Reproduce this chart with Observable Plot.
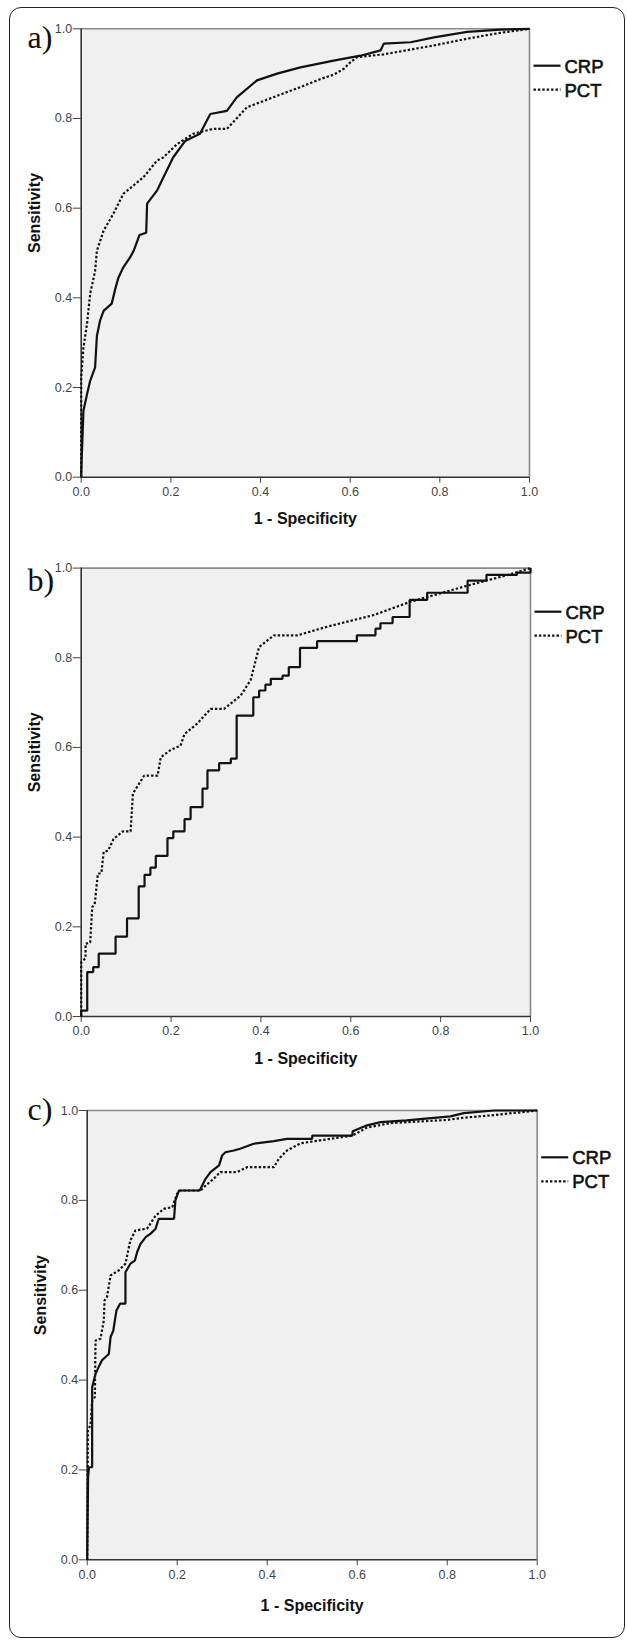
<!DOCTYPE html>
<html><head><meta charset="utf-8">
<script src="https://cdn.jsdelivr.net/npm/d3@7"></script>
<script src="https://cdn.jsdelivr.net/npm/@observablehq/plot@0.6"></script>
<style>
body{margin:0;background:#fff;}
#wrap{position:relative;width:627px;height:1640px;overflow:hidden;background:#fff;}
#frame{position:absolute;left:9px;top:7px;width:614px;height:1629px;border:1.6px solid #222;border-radius:12px;box-sizing:content-box;}
.panel{position:absolute;left:0;}
</style></head><body><div id="wrap"><div id="frame"></div></div>
<script>
// ---------- data ----------
const ticks = [0, 0.2, 0.4, 0.6, 0.8, 1.0];
const xTitle = "1 - Specificity";
const yTitle = "Sensitivity";
const seriesNames = ["CRP", "PCT"];
const panelLabels = ["a)", "b)", "c)"];

// panel a  [1 - specificity, sensitivity]
const aCRP = [[0,0],[0.001,0.037],[0.005,0.148],[0.013,0.185],[0.02,0.215],[0.031,0.245],[0.035,0.315],[0.042,0.349],[0.05,0.371],[0.068,0.387],[0.076,0.42],[0.083,0.445],[0.094,0.468],[0.109,0.49],[0.117,0.505],[0.13,0.54],[0.145,0.545],[0.147,0.61],[0.169,0.639],[0.183,0.668],[0.205,0.713],[0.232,0.75],[0.265,0.766],[0.288,0.81],[0.325,0.817],[0.347,0.847],[0.392,0.885],[0.437,0.9],[0.489,0.914],[0.563,0.929],[0.623,0.94],[0.668,0.952],[0.675,0.967],[0.735,0.97],[0.787,0.981],[0.861,0.993],[0.935,0.998],[1,1]];
const aPCT = [[0,0],[0,0.222],[0.005,0.289],[0.013,0.342],[0.02,0.409],[0.031,0.46],[0.035,0.505],[0.05,0.55],[0.072,0.588],[0.094,0.632],[0.139,0.669],[0.169,0.706],[0.183,0.713],[0.214,0.743],[0.25,0.766],[0.295,0.777],[0.325,0.777],[0.37,0.825],[0.467,0.862],[0.489,0.87],[0.534,0.888],[0.564,0.898],[0.586,0.911],[0.601,0.926],[0.616,0.937],[0.675,0.943],[0.787,0.963],[0.861,0.978],[0.935,0.991],[1,1]];

// panel b
const bCRP = [[0,0],[0,0.013],[0.0134,0.099],[0.0267,0.11],[0.039,0.14],[0.0765,0.178],[0.102,0.219],[0.128,0.29],[0.141,0.316],[0.154,0.332],[0.166,0.358],[0.192,0.398],[0.205,0.413],[0.23,0.44],[0.2435,0.467],[0.27,0.508],[0.281,0.549],[0.307,0.565],[0.333,0.575],[0.346,0.671],[0.383,0.712],[0.396,0.727],[0.41,0.74],[0.422,0.753],[0.448,0.76],[0.462,0.779],[0.487,0.822],[0.525,0.837],[0.6135,0.85],[0.655,0.865],[0.666,0.877],[0.693,0.891],[0.731,0.929],[0.77,0.945],[0.86,0.972],[0.902,0.985],[0.97,0.99],[1,1]];
const bPCT = [[0,0],[0,0.121],[0.0097,0.13],[0.0097,0.162],[0.02,0.165],[0.0245,0.244],[0.03,0.25],[0.037,0.318],[0.045,0.32],[0.05,0.367],[0.06,0.37],[0.072,0.396],[0.093,0.413],[0.11,0.413],[0.115,0.497],[0.14,0.537],[0.17,0.537],[0.177,0.578],[0.2,0.595],[0.221,0.604],[0.23,0.63],[0.258,0.653],[0.288,0.686],[0.318,0.686],[0.355,0.716],[0.377,0.75],[0.396,0.824],[0.429,0.85],[0.481,0.85],[0.55,0.87],[0.65,0.895],[0.73,0.924],[0.86,0.961],[0.95,0.985],[1,1]];

// panel c
const cCRP = [[0,0],[0.002,0.184],[0.004,0.206],[0.011,0.206],[0.011,0.384],[0.0185,0.414],[0.026,0.43],[0.033,0.444],[0.048,0.458],[0.052,0.496],[0.058,0.51],[0.065,0.555],[0.073,0.57],[0.085,0.57],[0.085,0.64],[0.096,0.659],[0.106,0.666],[0.111,0.685],[0.1185,0.703],[0.13,0.718],[0.141,0.726],[0.152,0.737],[0.159,0.759],[0.193,0.759],[0.196,0.8],[0.204,0.822],[0.25,0.822],[0.263,0.848],[0.274,0.863],[0.293,0.878],[0.3,0.9],[0.307,0.907],[0.326,0.911],[0.34,0.915],[0.37,0.926],[0.415,0.932],[0.444,0.937],[0.5,0.937],[0.5,0.944],[0.589,0.944],[0.59,0.954],[0.622,0.967],[0.652,0.974],[0.71,0.978],[0.807,0.987],[0.837,0.994],[0.904,1],[1,1]];
const cPCT = [[0,0],[0.0015,0.288],[0.0074,0.3],[0.011,0.355],[0.017,0.362],[0.0185,0.488],[0.0296,0.492],[0.037,0.533],[0.0385,0.577],[0.044,0.585],[0.052,0.633],[0.07,0.644],[0.085,0.659],[0.096,0.711],[0.107,0.733],[0.133,0.737],[0.152,0.766],[0.17,0.781],[0.189,0.785],[0.2,0.815],[0.207,0.822],[0.252,0.822],[0.263,0.833],[0.281,0.848],[0.296,0.863],[0.333,0.863],[0.356,0.874],[0.415,0.874],[0.426,0.893],[0.444,0.911],[0.474,0.927],[0.541,0.937],[0.589,0.944],[0.622,0.962],[0.674,0.972],[0.71,0.974],[0.8,0.979],[0.837,0.984],[0.896,0.989],[1,1]];

// ---------- layout ----------
const panels = [
  {label: panelLabels[0], crp: aCRP, pct: aPCT, crpCurve: "linear", top: 0,    height: 545, mt: 28.3, mb: 68.3, ml: 80.7, mr: 98,   legDy: 37.4, labelDy: 19, titleDy: 47},
  {label: panelLabels[1], crp: bCRP, pct: bPCT, crpCurve: "step-after", top: 545, height: 540, mt: 22.6, mb: 69,   ml: 80.7, mr: 97,   legDy: 44.1, labelDy: 22.5, titleDy: 47},
  {label: panelLabels[2], crp: cCRP, pct: cPCT, crpCurve: "linear", top: 1085, height: 555, mt: 25,   mb: 80.7, ml: 86.7, mr: 90.3, legDy: 47.3, labelDy: 9.5, titleDy: 51}
];

const wrap = document.getElementById("wrap");
const FONT = "'Liberation Sans', Arial, Helvetica, sans-serif";
const DOT = "2.4 2";

for (const p of panels) {
  const chart = Plot.plot({
    width: 627,
    height: p.height,
    marginTop: p.mt, marginBottom: p.mb, marginLeft: p.ml, marginRight: p.mr,
    style: {fontFamily: FONT, fontSize: "12.5px", color: "#333", background: "transparent", overflow: "visible"},
    x: {domain: [0, 1]},
    y: {domain: [0, 1]},
    marks: [
      Plot.frame({fill: "#f0f0f0", stroke: "none"}),
      Plot.ruleY([1], {stroke: "#8a8a8a", strokeWidth: 1.6}),
      Plot.ruleX([1], {stroke: "#8a8a8a", strokeWidth: 1.6}),
      Plot.axisX(ticks, {tickSize: 6, tickPadding: 4, tickFormat: d3.format(".1f"), label: null, fontSize: 12.5, stroke: "#444", fill: "#444"}),
      Plot.axisY(ticks, {tickSize: 8, tickPadding: 1, tickFormat: d3.format(".1f"), label: null, fontSize: 12.5, stroke: "#444", fill: "#444"}),
      Plot.ruleX([0], {stroke: "#333", strokeWidth: 1.6}),
      Plot.ruleY([0], {stroke: "#333", strokeWidth: 1.6}),
      Plot.line(p.pct, {x: d => d[0], y: d => d[1], stroke: "#111", strokeWidth: 2.2, strokeDasharray: DOT, strokeLinecap: "butt", strokeLinejoin: "miter", curve: "linear"}),
      Plot.line(p.crp, {x: d => d[0], y: d => d[1], stroke: "#111", strokeWidth: 2.2, strokeLinecap: "butt", strokeLinejoin: "miter", curve: p.crpCurve}),
      Plot.text([xTitle], {text: d => d, frameAnchor: "bottom", lineAnchor: "bottom", dy: p.titleDy, fontWeight: "bold", fontSize: 16, fill: "#111"}),
      Plot.text([yTitle], {text: d => d, frameAnchor: "left", rotate: -90, dx: -46, fontWeight: "bold", fontSize: 16, fill: "#111"}),
      Plot.text([p.label], {text: d => d, frameAnchor: "top-left", textAnchor: "start", lineAnchor: "bottom", dx: 27 - p.ml, dy: p.labelDy, fontFamily: "'Liberation Serif', 'Times New Roman', serif", fontSize: 32, fill: "#111"})
    ]
  });
  chart.classList.add("panel");
  chart.style.top = p.top + "px";
  wrap.appendChild(chart);

  // legend (right of the plot frame)
  const g = d3.select(chart).append("g").attr("text-anchor", "start");
  const x0 = 627 - p.mr + 4.5;
  seriesNames.forEach((name, i) => {
    const y = p.mt + p.legDy + i * 24;
    g.append("line").attr("x1", x0).attr("x2", x0 + 27).attr("y1", y).attr("y2", y)
      .attr("stroke", "#111").attr("stroke-width", 2.2)
      .attr("stroke-dasharray", i === 1 ? DOT : null);
    g.append("text").attr("x", x0 + 31).attr("y", y + 7).text(name)
      .attr("text-anchor", "start")
      .attr("font-family", FONT).attr("font-size", 18.5).attr("fill", "#111")
      .attr("stroke", "#111").attr("stroke-width", 0.6);
  });
}
</script></body></html>
